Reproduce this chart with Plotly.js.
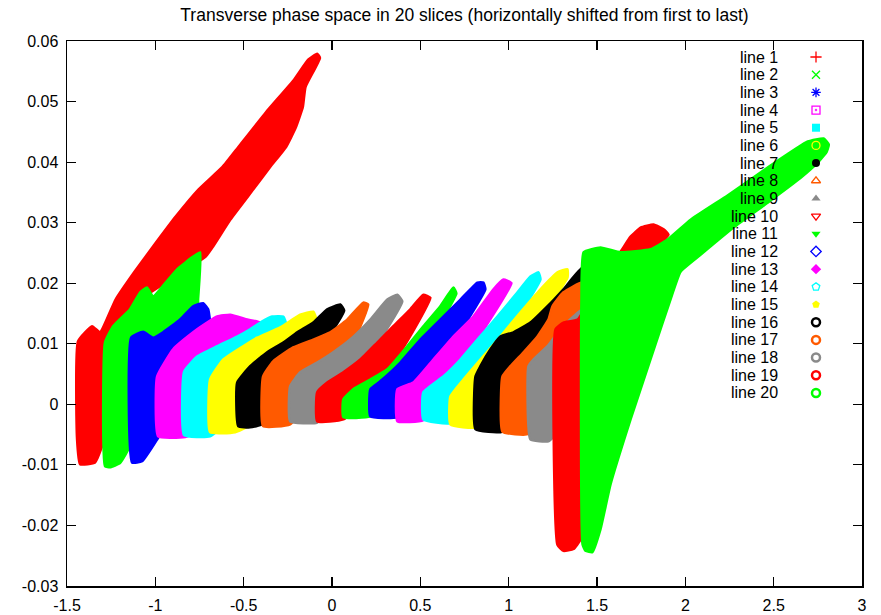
<!DOCTYPE html>
<html><head><meta charset="utf-8">
<script src="https://cdn.plot.ly/plotly-3.0.1.min.js"></script>
<style>html,body{margin:0;padding:0;background:#fff}#chart{width:881px;height:615px}</style>
</head><body><div id="chart"></div>
<script>
// Slice outlines (x, x' values)
const s1x = [-1.426, -1.443, -1.438, -1.358, -1.313, -1.225, -1.120, -1.012, -0.885, -0.755, -0.620, -0.530, -0.375, -0.215, -0.135, -0.084, -0.068, -0.150, -0.165, -0.205, -0.260, -0.350, -0.445, -0.575, -0.672, -0.715, -1.086, -1.285, -1.296, -1.341];
const s1y = [-0.0099, -0.0058, 0.0104, 0.0129, 0.0119, 0.0173, 0.0218, 0.0261, 0.0310, 0.0355, 0.0392, 0.0425, 0.0482, 0.0536, 0.0569, 0.0579, 0.0572, 0.0524, 0.0491, 0.0457, 0.0425, 0.0392, 0.0355, 0.0305, 0.0261, 0.0244, 0.0173, 0.0107, -0.0063, -0.0096];
const s2x = [-1.285, -1.285, -1.239, -1.143, -1.086, -1.047, -1.013, -0.973, -0.877, -0.786, -0.746, -0.758, -0.763, -1.030, -1.137, -1.200, -1.256];
const s2y = [-0.0102, 0.0102, 0.0129, 0.0157, 0.0185, 0.0193, 0.0178, 0.0190, 0.0223, 0.0244, 0.0251, 0.0173, 0.0140, 0.0008, -0.0066, -0.0097, -0.0104];
const s3x = [-1.132, -1.137, -1.069, -1.013, -0.956, -0.860, -0.786, -0.729, -0.701, -0.690, -0.746, -0.860, -0.990, -1.075];
const s3y = [-0.0096, 0.0110, 0.0120, 0.0110, 0.0119, 0.0140, 0.0162, 0.0167, 0.0157, 0.0132, 0.0074, 0.0008, -0.0058, -0.0094];
const s4x = [-0.984, -0.990, -0.899, -0.786, -0.707, -0.650, -0.576, -0.480, -0.407, -0.395, -0.520, -0.718, -0.831];
const s4y = [-0.0053, 0.0046, 0.0091, 0.0119, 0.0135, 0.0145, 0.0148, 0.0140, 0.0135, 0.0115, 0.0041, -0.0041, -0.0054];
const s5x = [-0.837, -0.837, -0.763, -0.650, -0.537, -0.463, -0.395, -0.339, -0.276, -0.259, -0.407, -0.576, -0.690];
const s5y = [-0.0051, 0.0054, 0.0079, 0.0096, 0.0112, 0.0124, 0.0137, 0.0145, 0.0145, 0.0132, 0.0041, -0.0025, -0.0053];
const s6x = [-0.690, -0.690, -0.616, -0.503, -0.424, -0.293, -0.180, -0.106, -0.089, -0.237, -0.407, -0.548];
const s6y = [-0.0046, 0.0041, 0.0074, 0.0096, 0.0110, 0.0127, 0.0148, 0.0153, 0.0140, 0.0058, -0.0025, -0.0046];
const s7x = [-0.531, -0.537, -0.463, -0.367, -0.276, -0.197, -0.106, -0.027, 0.047, 0.069, -0.067, -0.237, -0.395, -0.463];
const s7y = [-0.0036, 0.0036, 0.0063, 0.0086, 0.0102, 0.0119, 0.0135, 0.0157, 0.0165, 0.0155, 0.0091, 0.0025, -0.0033, -0.0038];
const s8x = [-0.390, -0.390, -0.333, -0.220, -0.106, -0.010, 0.086, 0.177, 0.205, 0.103, -0.067, -0.237];
const s8y = [-0.0036, 0.0046, 0.0071, 0.0094, 0.0107, 0.0119, 0.0140, 0.0168, 0.0165, 0.0091, 0.0025, -0.0033];
const s9x = [-0.237, -0.237, -0.180, -0.084, 0.007, 0.103, 0.217, 0.313, 0.370, 0.398, 0.273, 0.075, -0.084];
const s9y = [-0.0028, 0.0030, 0.0053, 0.0069, 0.0086, 0.0107, 0.0140, 0.0173, 0.0181, 0.0170, 0.0107, 0.0025, -0.0030];
const s10x = [-0.084, -0.084, -0.027, 0.064, 0.160, 0.256, 0.347, 0.443, 0.517, 0.557, 0.415, 0.217, 0.064];
const s10y = [-0.0028, 0.0020, 0.0036, 0.0053, 0.0074, 0.0102, 0.0129, 0.0157, 0.0181, 0.0176, 0.0099, 0.0016, -0.0025];
const s11x = [0.064, 0.064, 0.120, 0.217, 0.313, 0.426, 0.517, 0.613, 0.687, 0.704, 0.557, 0.358, 0.217];
const s11y = [-0.0021, 0.0008, 0.0025, 0.0041, 0.0058, 0.0096, 0.0129, 0.0162, 0.0193, 0.0183, 0.0107, 0.0025, -0.0020];
const s12x = [0.217, 0.217, 0.273, 0.387, 0.500, 0.613, 0.727, 0.823, 0.857, 0.868, 0.698, 0.500, 0.370];
const s12y = [-0.0020, 0.0025, 0.0038, 0.0069, 0.0107, 0.0140, 0.0173, 0.0201, 0.0201, 0.0190, 0.0107, 0.0025, -0.0021];
const s13x = [0.370, 0.370, 0.460, 0.574, 0.687, 0.800, 0.914, 0.970, 1.016, 0.840, 0.642, 0.517];
const s13y = [-0.0028, 0.0025, 0.0036, 0.0074, 0.0112, 0.0145, 0.0190, 0.0206, 0.0200, 0.0115, 0.0025, -0.0026];
const s14x = [0.517, 0.517, 0.630, 0.727, 0.823, 0.936, 1.050, 1.123, 1.169, 1.180, 1.010, 0.783, 0.670];
const s14y = [-0.0025, 0.0020, 0.0046, 0.0074, 0.0107, 0.0145, 0.0185, 0.0211, 0.0218, 0.0206, 0.0124, 0.0025, -0.0031];
const s15x = [0.670, 0.670, 0.744, 0.840, 0.953, 1.067, 1.180, 1.276, 1.333, 1.333, 1.180, 0.953, 0.817];
const s15y = [-0.0033, 0.0013, 0.0041, 0.0074, 0.0112, 0.0152, 0.0190, 0.0218, 0.0223, 0.0209, 0.0140, 0.0041, -0.0038];
const s16x = [0.812, 0.812, 0.840, 0.897, 0.953, 1.027, 1.123, 1.220, 1.310, 1.418, 1.463, 1.180, 0.965];
const s16y = [-0.0041, 0.0046, 0.0063, 0.0091, 0.0112, 0.0119, 0.0135, 0.0162, 0.0190, 0.0226, 0.0173, 0.0058, -0.0045];
const s17x = [0.965, 0.965, 1.010, 1.084, 1.163, 1.225, 1.248, 1.310, 1.418, 1.463, 1.208, 1.112];
const s17y = [-0.0045, 0.0046, 0.0063, 0.0086, 0.0112, 0.0140, 0.0162, 0.0185, 0.0201, 0.0124, 0.0008, -0.0049];
const s18x = [1.123, 1.112, 1.140, 1.220, 1.293, 1.367, 1.418, 1.435, 1.293, 1.225];
const s18y = [-0.0058, 0.0063, 0.0074, 0.0096, 0.0124, 0.0145, 0.0157, 0.0041, -0.0041, -0.0061];
const s19x = [1.276, 1.265, 1.310, 1.390, 1.520, 1.633, 1.690, 1.747, 1.820, 1.877, 1.905, 1.843, 1.633, 1.492, 1.435, 1.407, 1.367, 1.310];
const s19y = [-0.0232, 0.0124, 0.0135, 0.0140, 0.0206, 0.0252, 0.0277, 0.0292, 0.0297, 0.0289, 0.0280, 0.0261, 0.0206, 0.0091, -0.0124, -0.0223, -0.0239, -0.0242];
const s20x = [1.424, 1.412, 1.418, 1.435, 1.474, 1.520, 1.577, 1.690, 1.831, 1.916, 1.973, 2.086, 2.273, 2.466, 2.653, 2.749, 2.800, 2.812, 2.783, 2.693, 2.466, 2.239, 2.030, 1.899, 1.803, 1.633, 1.520];
const s20y = [0.0251, 0.0173, -0.0231, -0.0242, -0.0244, -0.0206, -0.0132, -0.0025, 0.0099, 0.0173, 0.0219, 0.0247, 0.0292, 0.0333, 0.0374, 0.0399, 0.0417, 0.0429, 0.0439, 0.0434, 0.0391, 0.0345, 0.0305, 0.0272, 0.0256, 0.0251, 0.0259];

const seriesNames = ['line 1','line 2','line 3','line 4','line 5','line 6','line 7','line 8','line 9','line 10',
  'line 11','line 12','line 13','line 14','line 15','line 16','line 17','line 18','line 19','line 20'];
const palette = ['#ff0000','#00ff00','#0000ff','#ff00ff','#00ffff','#ffff00','#000000','#ff5a00','#8a8a8a'];
const legendSymbols = ['cross-thin-open','x-thin-open','asterisk-open','square-open-dot','square','circle-open','circle',
  'triangle-up-open','triangle-up','triangle-down-open','triangle-down','diamond-open','diamond','pentagon-open','pentagon',
  'circle-open','circle-open','circle-open','circle-open','circle-open'];
const xTickVals = [-1.5,-1,-0.5,0,0.5,1,1.5,2,2.5,3];
const xTickText = ['-1.5','-1','-0.5','0','0.5','1','1.5','2','2.5','3'];
const yTickVals = [-0.03,-0.02,-0.01,0,0.01,0.02,0.03,0.04,0.05,0.06];
const yTickText = ['-0.03','-0.02','-0.01','0','0.01','0.02','0.03','0.04','0.05','0.06'];
const titleText = 'Transverse phase space in 20 slices (horizontally shifted from first to last)';

const slices = [[s1x,s1y],[s2x,s2y],[s3x,s3y],[s4x,s4y],[s5x,s5y],[s6x,s6y],[s7x,s7y],[s8x,s8y],[s9x,s9y],[s10x,s10y],
  [s11x,s11y],[s12x,s12y],[s13x,s13y],[s14x,s14y],[s15x,s15y],[s16x,s16y],[s17x,s17y],[s18x,s18y],[s19x,s19y],[s20x,s20y]];

const FONT = 'Liberation Sans, Arial, Helvetica, sans-serif';
const W = 881, H = 615;
const M = {l:67, r:19, t:41, b:29};
const PW = W - M.l - M.r, PH = H - M.t - M.b;

const traces = [];
slices.forEach((s, i) => {
  const c = palette[i % palette.length];
  traces.push({
    type:'scatter', mode:'lines', x:s[0].concat([s[0][0]]), y:s[1].concat([s[1][0]]),
    fill:'toself', fillcolor:c, line:{color:c, width:2.5, shape:'spline', smoothing:0.4},
    hoverinfo:'skip', showlegend:false, name:seriesNames[i]
  });
});

// Manual gnuplot-style key: text on left, symbol on right
const annotations = [];
const textRightPx = 780, symPx = 816, row0 = 57, rowStep = 17.68;
seriesNames.forEach((n, i) => {
  const py = row0 + i*rowStep;
  const yp = (H - M.b - py) / PH;
  annotations.push({xref:'paper', yref:'paper', x:(textRightPx - M.l)/PW, y:yp, xanchor:'right', yanchor:'middle',
    text:n, showarrow:false, font:{family:FONT, size:16, color:'#000'}});
  const c = palette[i % palette.length];
  const open = legendSymbols[i].indexOf('open') >= 0;
  traces.push({
    type:'scatter', mode:'markers', xaxis:'x2', yaxis:'y2',
    x:[(symPx - M.l)/PW], y:[yp], hoverinfo:'skip', showlegend:false, cliponaxis:false,
    marker:{symbol:legendSymbols[i], size:8, color:c,
      line:{color:c, width: i >= 15 ? 2.5 : (open ? 1.3 : 0)}}
  });
});

const axisBase = {showline:true, linecolor:'#000', linewidth:1.5, mirror:'ticks', ticks:'inside', ticklen:9,
  tickwidth:1.2, tickcolor:'#000', showgrid:false, zeroline:false, tickfont:{family:FONT, size:16, color:'#000'}};

const layout = {
  width:W, height:H, margin:M, paper_bgcolor:'#fff', plot_bgcolor:'#fff', showlegend:false,
  title:{text:titleText, font:{family:FONT, size:17.5, color:'#000'}, x:(M.l + PW/2)/W, xanchor:'center',
    y:1 - 15/H, yanchor:'middle', yref:'container'},
  xaxis:Object.assign({}, axisBase, {range:[-1.5,3], tickmode:'array', tickvals:xTickVals, ticktext:xTickText, ticklabelstandoff:4}),
  yaxis:Object.assign({}, axisBase, {range:[-0.03,0.06], tickmode:'array', tickvals:yTickVals, ticktext:yTickText, ticklabelstandoff:4}),
  xaxis2:{overlaying:'x', range:[0,1], visible:false, fixedrange:true},
  yaxis2:{overlaying:'y', range:[0,1], visible:false, fixedrange:true},
  annotations:annotations
};

Plotly.newPlot('chart', traces, layout, {staticPlot:true, displayModeBar:false});
</script></body></html>
